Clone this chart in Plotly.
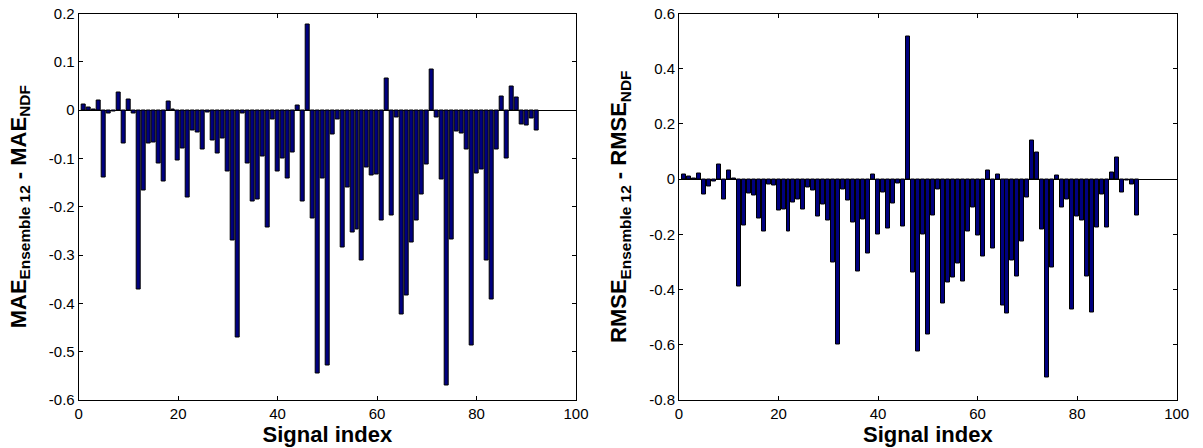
import plotly.graph_objects as go

signal_index = list(range(1, 93))

mae_diff = [
    0.011, 0.005, 0.001, 0.019, -0.140, -0.007, -0.003, 0.037, -0.069, 0.021,
    -0.006, -0.372, -0.167, -0.069, -0.067, -0.111, -0.147, 0.017, 0.002, -0.104,
    -0.080, -0.181, -0.043, -0.047, -0.081, -0.005, -0.063, -0.090, -0.059, -0.127,
    -0.269, -0.470, -0.007, -0.110, -0.189, -0.185, -0.097, -0.242, -0.019, -0.126,
    -0.101, -0.141, -0.087, 0.010, -0.189, 0.177, -0.225, -0.546, -0.142, -0.528,
    -0.050, -0.019, -0.285, -0.161, -0.254, -0.247, -0.312, -0.118, -0.135, -0.133,
    -0.229, 0.065, -0.218, -0.015, -0.424, -0.383, -0.273, -0.228, -0.175, -0.113,
    0.084, -0.015, -0.144, -0.569, -0.267, -0.044, -0.049, -0.081, -0.488, -0.131,
    -0.122, -0.311, -0.391, -0.081, 0.029, -0.100, 0.049, 0.027, -0.029, -0.032,
    -0.018, -0.042,
]

rmse_diff = [
    0.017, 0.008, 0.001, 0.020, -0.057, -0.027, -0.007, 0.054, -0.072, 0.033,
    0.004, -0.389, -0.169, -0.052, -0.058, -0.142, -0.188, -0.018, -0.024, -0.112,
    -0.110, -0.190, -0.084, -0.072, -0.110, -0.029, -0.042, -0.137, -0.092, -0.149,
    -0.301, -0.599, -0.037, -0.078, -0.158, -0.336, -0.146, -0.270, 0.016, -0.200,
    -0.048, -0.178, -0.090, -0.017, -0.170, 0.517, -0.339, -0.624, -0.199, -0.561,
    -0.130, -0.037, -0.449, -0.373, -0.357, -0.305, -0.370, -0.190, -0.102, -0.205,
    -0.280, 0.033, -0.252, 0.017, -0.458, -0.486, -0.293, -0.353, -0.225, -0.066,
    0.140, 0.098, -0.181, -0.720, -0.319, 0.012, -0.101, -0.072, -0.472, -0.137,
    -0.151, -0.351, -0.482, -0.175, -0.055, -0.175, 0.023, 0.080, -0.049, -0.004,
    -0.018, -0.133,
]

x_ticks = [0, 20, 40, 60, 80, 100]
x_ticktext = ["0", "20", "40", "60", "80", "100"]
mae_ticks = [0.2, 0.1, 0, -0.1, -0.2, -0.3, -0.4, -0.5, -0.6]
mae_ticktext = ["0.2", "0.1", "0", "-0.1", "-0.2", "-0.3", "-0.4", "-0.5", "-0.6"]
rmse_ticks = [0.6, 0.4, 0.2, 0, -0.2, -0.4, -0.6, -0.8]
rmse_ticktext = ["0.6", "0.4", "0.2", "0", "-0.2", "-0.4", "-0.6", "-0.8"]

bar_color = "#00007F"
FONT = "Arial, Liberation Sans, Helvetica, sans-serif"
TICK_SIZE = 15
TITLE_SIZE = 22

fig = go.Figure()
fig.add_trace(go.Bar(x=signal_index, y=mae_diff, width=0.8,
                     marker=dict(color=bar_color, line=dict(color="black", width=1)),
                     xaxis="x", yaxis="y", showlegend=False))
fig.add_trace(go.Bar(x=signal_index, y=rmse_diff, width=0.8,
                     marker=dict(color=bar_color, line=dict(color="black", width=1)),
                     xaxis="x2", yaxis="y2", showlegend=False))

W, H = 1203, 448
ydom = [(H - 400) / H, (H - 13.5) / H]

common_x = dict(range=[0, 100], tickvals=x_ticks, ticktext=x_ticktext, automargin=False,
                ticks="inside", ticklen=4, tickcolor="black", mirror="ticks",
                showline=True, linecolor="black", linewidth=1, showgrid=False,
                zeroline=False, tickfont=dict(family=FONT, size=TICK_SIZE, color="black"),
                title=dict(text="<b>Signal index</b>",
                           font=dict(family=FONT, size=TITLE_SIZE, color="black"),
                           standoff=1))
common_y = dict(ticks="inside", ticklen=4, tickcolor="black", mirror="ticks", automargin=False,
                showline=True, linecolor="black", linewidth=1, showgrid=False,
                zeroline=True, zerolinecolor="black", zerolinewidth=1,
                tickfont=dict(family=FONT, size=TICK_SIZE, color="black"), domain=ydom)

fig.update_layout(
    width=W, height=H,
    margin=dict(l=0, r=0, t=0, b=0),
    paper_bgcolor="white", plot_bgcolor="white",
    bargap=0,
    xaxis=dict(domain=[78.7 / W, 576 / W], anchor="y", **common_x),
    xaxis2=dict(domain=[679 / W, 1176.7 / W], anchor="y2", **common_x),
    yaxis=dict(range=[-0.6, 0.2], tickvals=mae_ticks, ticktext=mae_ticktext, anchor="x",
               title=dict(text="<b>MAE<sub>Ensemble 12</sub> - MAE<sub>NDF</sub></b>",
                          font=dict(family=FONT, size=TITLE_SIZE, color="black"), standoff=16),
               **common_y),
    yaxis2=dict(range=[-0.8, 0.6], tickvals=rmse_ticks, ticktext=rmse_ticktext, anchor="x2",
                title=dict(text="<b>RMSE<sub>Ensemble 12</sub> - RMSE<sub>NDF</sub></b>",
                           font=dict(family=FONT, size=TITLE_SIZE, color="black"), standoff=16),
                **common_y),
)

fig.write_html(
    "out.html",
    config={"displayModeBar": False},
    post_script="document.body.style.margin='0';document.body.style.overflow='hidden';",
)
